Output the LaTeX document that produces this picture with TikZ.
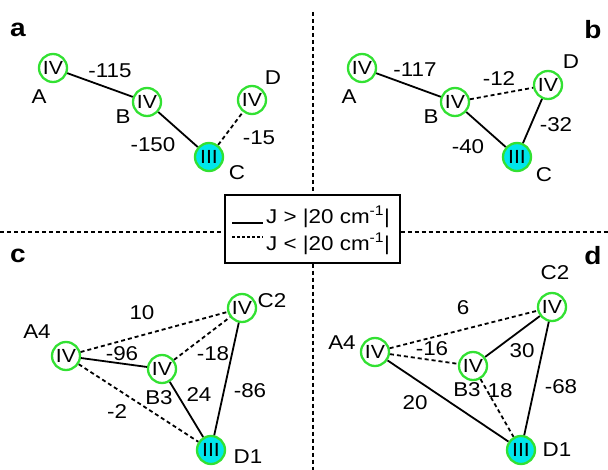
\documentclass[tikz,border=0pt]{standalone}
\usepackage{fontspec}
\setmainfont[FakeStretch=1.12]{Liberation Sans}
\definecolor{ringgreen}{RGB}{50,225,50}
\definecolor{ioncyan}{RGB}{0,230,235}
\begin{document}
\begin{tikzpicture}[x=1pt,y=-1pt,
  ion/.style={circle,draw=ringgreen,line width=2.3pt,minimum size=28pt,inner sep=0pt,font=\fontsize{19}{22}\selectfont},
  fe/.style={ion,fill=ioncyan},
  lbl/.style={inner sep=0pt,font=\fontsize{20}{24}\selectfont},
  jnum/.style={inner sep=0pt,font=\fontsize{20}{24}\selectfont},
  plab/.style={inner sep=0pt,font=\fontsize{25}{28}\selectfont\bfseries},
  strong/.style={line width=1.8pt},
  weak/.style={line width=1.8pt,dash pattern=on 4pt off 3pt},
  divider/.style={line width=1.8pt,dash pattern=on 4pt off 3pt}]
\useasboundingbox (0,0) rectangle (608,470);

% dividers and legend
\node[draw,line width=1.3pt,minimum width=175pt,minimum height=68pt,inner sep=0pt] (leg) at (312.5,229) {};
\coordinate (vt) at (313,12);
\coordinate (vb) at (313,470);
\coordinate (hl) at (0,232);
\coordinate (hr) at (608,232);
\draw[divider] (vt) -- (leg.north -| vt);
\draw[divider] (leg.south -| vb) -- (vb);
\draw[divider] (hl) -- (leg.west |- hl);
\draw[divider] (leg.east |- hr) -- (hr);
\coordinate (l1a) at (232,223); \coordinate (l1b) at (263,223);
\coordinate (l2a) at (232,237); \coordinate (l2b) at (263,237);
\draw[line width=1.3pt] (l1a) -- (l1b);
\draw[line width=1.3pt,dash pattern=on 3pt off 2pt] (l2a) -- (l2b);
\node[anchor=west,inner sep=0pt,font=\fontsize{20}{22}\selectfont] (t1) at (266,217) {J > |20 cm\textsuperscript{-1}|};
\node[anchor=west,inner sep=0pt,font=\fontsize{20}{22}\selectfont] (t2) at (266,244) {J < |20 cm\textsuperscript{-1}|};

% panel a
\node[plab] (pa) at (18,30) {a};
\node[ion] (aA) at (53,68) {IV};
\node[ion] (aB) at (147,102) {IV};
\node[fe] (aC) at (209,157) {III};
\node[ion] (aD) at (252,100) {IV};
\node[lbl] at (39,97) {A};
\node[lbl] at (123,117) {B};
\node[lbl] at (237,173) {C};
\node[lbl] at (273,78) {D};
\draw[strong] (aA) -- (aB);
\draw[strong] (aB) -- (aC);
\draw[weak] (aC) -- (aD);
\node[jnum] at (110,71) {-115};
\node[jnum] at (153,145) {-150};
\node[jnum] at (259,138) {-15};

% panel b
\node[plab] (pb) at (593,30) {b};
\node[ion] (bA) at (362,68) {IV};
\node[ion] (bB) at (455,102) {IV};
\node[fe] (bC) at (517,157) {III};
\node[ion] (bD) at (548,85) {IV};
\node[lbl] at (349,97) {A};
\node[lbl] at (431,117) {B};
\node[lbl] at (544,175) {C};
\node[lbl] at (571,62) {D};
\draw[strong] (bA) -- (bB);
\draw[weak] (bB) -- (bD);
\draw[strong] (bB) -- (bC);
\draw[strong] (bC) -- (bD);
\node[jnum] at (415,70) {-117};
\node[jnum] at (499,79) {-12};
\node[jnum] at (556,125) {-32};
\node[jnum] at (468,147) {-40};

% panel c
\node[plab] (pc) at (18,256) {c};
\node[ion] (cA) at (66,356) {IV};
\node[ion] (cB) at (162,369) {IV};
\node[ion] (cC) at (242,308) {IV};
\node[fe] (cD) at (211,450) {III};
\node[lbl] at (37,332) {A4};
\node[lbl] at (159,398) {B3};
\node[lbl] at (272,301) {C2};
\node[lbl] at (248,457) {D1};
\draw[weak] (cA) -- (cC);
\draw[strong] (cA) -- (cB);
\draw[weak] (cB) -- (cC);
\draw[weak] (cA) -- (cD);
\draw[strong] (cB) -- (cD);
\draw[strong] (cC) -- (cD);
\node[jnum] at (142,313) {10};
\node[jnum] at (122,354) {-96};
\node[jnum] at (213,354) {-18};
\node[jnum] at (199,395) {24};
\node[jnum] at (250,391) {-86};
\node[jnum] at (117,412) {-2};

% panel d
\node[plab] (pd) at (593,256) {d};
\node[ion] (dA) at (375,352) {IV};
\node[ion] (dB) at (473,366) {IV};
\node[ion] (dC) at (552,307) {IV};
\node[fe] (dD) at (521,450) {III};
\node[lbl] at (342,343) {A4};
\node[lbl] at (467,390) {B3};
\node[lbl] at (555,273) {C2};
\node[lbl] at (557,450) {D1};
\draw[weak] (dA) -- (dC);
\draw[weak] (dA) -- (dB);
\draw[strong] (dB) -- (dC);
\draw[weak] (dB) -- (dD);
\draw[strong] (dA) -- (dD);
\draw[strong] (dC) -- (dD);
\node[jnum] at (463,308) {6};
\node[jnum] at (432,349) {-16};
\node[jnum] at (522,351) {30};
\node[jnum] at (500,391) {18};
\node[jnum] at (561,387) {-68};
\node[jnum] at (415,403) {20};
\end{tikzpicture}
\end{document}
